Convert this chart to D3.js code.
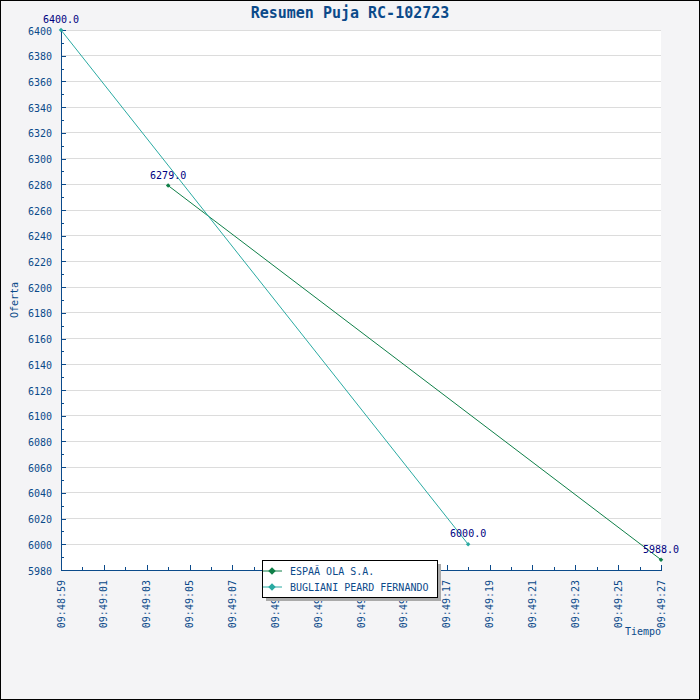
<!DOCTYPE html>
<html lang="es">
<head>
  <meta charset="UTF-8">
  <title>Resumen Puja RC-102723</title>
  <script src="https://d3js.org/d3.v7.min.js"></script>
  <style>
    body { margin: 0; padding: 0; background: #fff; }
    svg { display: block; }
    text { font-family: "DejaVu Sans Mono", monospace; }
  </style>
</head>
<body>
  <div id="chart"></div>
  <script>
    // Data
    const seriesNames = ["ESPAÃ OLA S.A.", "BUGLIANI PEARD FERNANDO"];
    const seriesColors = ["#0f7f48", "#2aaaa2"];
    const espTimes = ["09:49:04", "09:49:27"];
    const espValues = [6279, 5988];
    const bugTimes = ["09:48:59", "09:49:18"];
    const bugValues = [6400, 6000];
    const xDomain = ["09:48:59", "09:49:27"];
    const yDomain = [5980, 6400];

    const parse = d3.timeParse("%H:%M:%S");
    const series = [
      { name: seriesNames[0], color: seriesColors[0], pts: espTimes.map((t, i) => ({ t: parse(t), v: espValues[i] })) },
      { name: seriesNames[1], color: seriesColors[1], pts: bugTimes.map((t, i) => ({ t: parse(t), v: bugValues[i] })) }
    ];

    const width = 700, height = 700;
    const margin = { top: 30, right: 39, bottom: 130, left: 61 };
    const axisColor = "#0b4a8a";

    const svg = d3.select("#chart").append("svg")
      .attr("width", width)
      .attr("height", height);

    // background + frame
    svg.append("rect")
      .attr("x", 0.5).attr("y", 0.5)
      .attr("width", width - 1).attr("height", height - 1)
      .attr("fill", "#f4f4f6")
      .attr("stroke", "#000");

    const x = d3.scaleTime()
      .domain(xDomain.map(parse))
      .range([margin.left, width - margin.right]);
    const y = d3.scaleLinear()
      .domain(yDomain)
      .range([height - margin.bottom, margin.top]);

    // plot area
    svg.append("rect")
      .attr("x", margin.left).attr("y", margin.top)
      .attr("width", width - margin.left - margin.right)
      .attr("height", height - margin.top - margin.bottom)
      .attr("fill", "#fff");

    // grid
    svg.append("g")
      .attr("shape-rendering", "crispEdges")
      .selectAll("line")
      .data(d3.range(6000, 6401, 20))
      .join("line")
      .attr("x1", margin.left).attr("x2", width - margin.right)
      .attr("y1", d => y(d)).attr("y2", d => y(d))
      .attr("stroke", "#dcdcdc");

    // y axis
    svg.append("g")
      .attr("transform", `translate(${margin.left},0)`)
      .attr("shape-rendering", "crispEdges")
      .call(d3.axisRight(y).tickValues(d3.range(5980, 6401, 20)).tickSize(5).tickFormat(""));
    svg.append("g")
      .attr("transform", `translate(${margin.left},0)`)
      .attr("shape-rendering", "crispEdges")
      .call(d3.axisRight(y).tickValues(d3.range(5990, 6400, 20)).tickSize(3).tickFormat(""))
      .call(g => g.select(".domain").remove());
    svg.append("g")
      .selectAll("text")
      .data(d3.range(5980, 6401, 20))
      .join("text")
      .attr("x", margin.left - 9)
      .attr("y", d => y(d) + 1)
      .attr("dy", "0.35em")
      .attr("text-anchor", "end")
      .attr("font-size", 10)
      .attr("fill", axisColor)
      .text(d => d);

    // x axis
    const xb = height - margin.bottom;
    const secs = d3.timeSecond.range(parse(xDomain[0]), d3.timeSecond.offset(parse(xDomain[1]), 1));
    svg.append("g")
      .attr("transform", `translate(0,${xb})`)
      .attr("shape-rendering", "crispEdges")
      .call(d3.axisTop(x).tickValues(secs.filter((d, i) => i % 2 === 0)).tickSize(5).tickFormat(""));
    svg.append("g")
      .attr("transform", `translate(0,${xb})`)
      .attr("shape-rendering", "crispEdges")
      .call(d3.axisTop(x).tickValues(secs.filter((d, i) => i % 2 === 1)).tickSize(3).tickFormat(""))
      .call(g => g.select(".domain").remove());
    svg.append("g")
      .selectAll("text")
      .data(secs.filter((d, i) => i % 2 === 0))
      .join("text")
      .attr("transform", d => `translate(${x(d)},${xb + 10}) rotate(-90)`)
      .attr("dy", "0.35em")
      .attr("text-anchor", "end")
      .attr("font-size", 10)
      .attr("fill", axisColor)
      .text(d3.timeFormat("%H:%M:%S"));

    svg.selectAll(".domain, .tick line").attr("stroke", axisColor);

    // titles
    svg.append("text")
      .attr("x", width / 2).attr("y", 18)
      .attr("text-anchor", "middle")
      .attr("font-size", 15)
      .attr("font-weight", "bold")
      .attr("fill", axisColor)
      .text("Resumen Puja RC-102723");
    svg.append("text")
      .attr("transform", `translate(14,${(margin.top + xb) / 2}) rotate(-90)`)
      .attr("text-anchor", "middle")
      .attr("dy", "0.35em")
      .attr("font-size", 10)
      .attr("fill", axisColor)
      .text("Oferta");
    svg.append("text")
      .attr("x", width - margin.right).attr("y", 635)
      .attr("text-anchor", "end")
      .attr("font-size", 10)
      .attr("fill", axisColor)
      .text("Tiempo");

    // series
    const line = d3.line().x(d => x(d.t)).y(d => y(d.v));
    const diamond = d3.symbol().type(d3.symbolSquare).size(10);
    series.forEach(s => {
      svg.append("path")
        .datum(s.pts)
        .attr("d", line)
        .attr("fill", "none")
        .attr("stroke", s.color)
        .attr("stroke-width", 1);
      svg.append("g").selectAll("path")
        .data(s.pts)
        .join("path")
        .attr("d", diamond)
        .attr("transform", d => `translate(${x(d.t)},${y(d.v)}) rotate(45)`)
        .attr("fill", s.color);
    });

    // point labels
    const allPts = series.flatMap(s => s.pts);
    svg.append("g").selectAll("text")
      .data(allPts)
      .join("text")
      .attr("x", d => x(d.t))
      .attr("y", d => y(d.v) - 7)
      .attr("text-anchor", "middle")
      .attr("font-size", 10)
      .attr("fill", "#000080")
      .text(d => d.v.toFixed(1));

    // legend
    const lg = svg.append("g").attr("transform", "translate(262,560)");
    const lw = 175, lh = 37;
    lg.append("rect")
      .attr("x", 4).attr("y", 4).attr("width", lw).attr("height", lh)
      .attr("fill", "#aaa");
    lg.append("rect")
      .attr("x", 0.5).attr("y", 0.5).attr("width", lw).attr("height", lh)
      .attr("fill", "#fff").attr("stroke", "#000");
    const li = lg.selectAll(".item")
      .data(series)
      .join("g")
      .attr("transform", (d, i) => `translate(0,${11 + i * 16})`);
    li.append("line")
      .attr("x1", 1).attr("x2", 20)
      .attr("stroke", d => d.color);
    li.append("path")
      .attr("d", d3.symbol().type(d3.symbolSquare).size(28))
      .attr("transform", "translate(10,0) rotate(45)")
      .attr("fill", d => d.color);
    li.append("text")
      .attr("x", 28).attr("dy", "0.35em")
      .attr("font-size", 10)
      .attr("fill", axisColor)
      .text(d => d.name);
  </script>
</body>
</html>
